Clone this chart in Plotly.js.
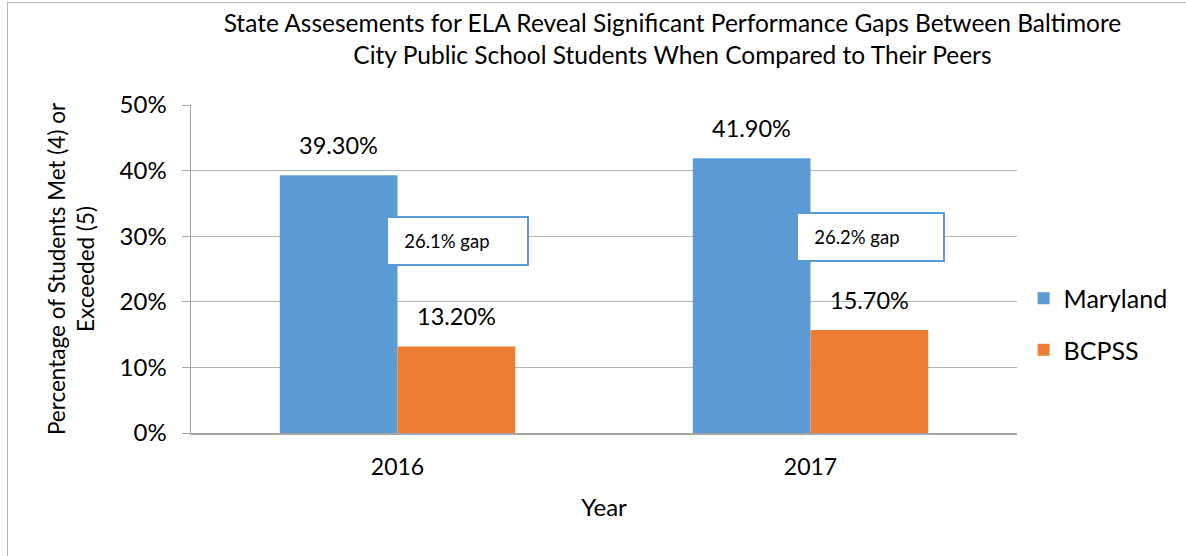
<!DOCTYPE html>
<html>
<head>
<meta charset="utf-8">
<script src="https://cdn.plot.ly/plotly-3.0.1.min.js"></script>
<style>
  html, body { margin: 0; padding: 0; background: #fff; }
  #wrap { position: relative; width: 1186px; height: 556px; }
  #chart { width: 1186px; height: 556px; }
  #frame { position: absolute; left: 7px; top: 2px; width: 1200px; height: 600px;
           border-left: 1.5px solid #b4b4b4; border-top: 1.5px solid #b4b4b4; pointer-events: none; }
</style>
</head>
<body>
<div id="wrap">
  <div id="chart"></div>
  <div id="frame"></div>
</div>
<script>
const years = ['2016', '2017'];
const maryland = [0.393, 0.419];
const bcpss = [0.132, 0.157];
const marylandLabels = ['39.30%', '41.90%'];
const bcpssLabels = ['13.20%', '15.70%'];
const gapLabels = ['26.1% gap', '26.2% gap'];
const gapY = [0.292, 0.299];
const yTicks = [0, 0.1, 0.2, 0.3, 0.4, 0.5];
const yTickText = ['0%', '10%', '20%', '30%', '40%', '50%'];

const FONT = 'Lato, "Open Sans", sans-serif';
const NB = '\u00A0\u00A0\u00A0';

const traces = [
  {
    type: 'bar', name: 'Maryland', x: years, y: maryland, legendgroup: 'a',
    marker: { color: '#5b9bd5' }
  },
  {
    type: 'bar', name: 'BCPSS', x: years, y: bcpss, legendgroup: 'b',
    marker: { color: '#ed7d31' }
  }
];

// value labels above bars (offset half a bar-group width left/right of the category)
const valueAnnotations = [];
years.forEach((yr, i) => {
  valueAnnotations.push({
    xref: 'x', yref: 'y', x: i, y: maryland[i], xshift: -59, yshift: 14,
    yanchor: 'bottom', text: marylandLabels[i], showarrow: false,
    font: { family: FONT, size: 23.5, color: '#000' }
  });
  valueAnnotations.push({
    xref: 'x', yref: 'y', x: i, y: bcpss[i], xshift: 59, yshift: 14,
    yanchor: 'bottom', text: bcpssLabels[i], showarrow: false,
    font: { family: FONT, size: 23.5, color: '#000' }
  });
});

const boxWidths = [135, 141];
const gapAnnotations = gapLabels.map((t, i) => ({
  xref: 'x', yref: 'y', x: i, y: gapY[i], xshift: 60,
  text: NB + t, showarrow: false,
  font: { family: FONT, size: 18.5, color: '#000' },
  bgcolor: '#fff', bordercolor: '#5b9bd5', borderwidth: 2,
  width: boxWidths[i], height: 42, borderpad: 2, align: 'left'
}));

const layout = {
  width: 1186, height: 556,
  margin: { l: 191, r: 169, t: 105, b: 123 },
  paper_bgcolor: '#fff', plot_bgcolor: '#fff',
  font: { family: FONT, color: '#000' },
  barmode: 'group', bargap: 0.43, bargroupgap: 0,
  title: {
    text: 'State Assesements for ELA Reveal Significant Performance Gaps Between Baltimore<br>City Public School Students When Compared to Their Peers',
    font: { family: FONT, size: 24.5, color: '#000' },
    xref: 'container', x: 0.567, xanchor: 'center',
    yref: 'container', y: 0.942, yanchor: 'middle'
  },
  xaxis: {
    type: 'category',
    showline: true, linecolor: '#a6a6a6', linewidth: 1.5,
    ticks: '', tickfont: { family: FONT, size: 23, color: '#000' },
    ticklabelstandoff: 13,
    title: { text: 'Year', font: { family: FONT, size: 24, color: '#000' }, standoff: 20 }
  },
  yaxis: {
    range: [0, 0.5], tickvals: yTicks, ticktext: yTickText,
    showgrid: true, gridcolor: '#b3b3b3', gridwidth: 1,
    showline: true, linecolor: '#a6a6a6', linewidth: 1.5,
    ticks: 'outside', ticklen: 8, tickcolor: '#a6a6a6',
    tickfont: { family: FONT, size: 24, color: '#000' },
    ticklabelstandoff: 10,
    zeroline: false,
    title: { text: 'Percentage of Students Met (4) or<br>Exceeded (5)', font: { family: FONT, size: 22.5, color: '#000' }, standoff: 18 }
  },
  legend: {
    x: 1.008, xanchor: 'left', y: 0.332, yanchor: 'middle',
    font: { family: FONT, size: 25, color: '#000' },
    tracegroupgap: 16, itemwidth: 30
  },
  showlegend: true,
  annotations: valueAnnotations.concat(gapAnnotations)
};

Plotly.newPlot('chart', traces, layout, { displayModeBar: false, staticPlot: true });
</script>
</body>
</html>
